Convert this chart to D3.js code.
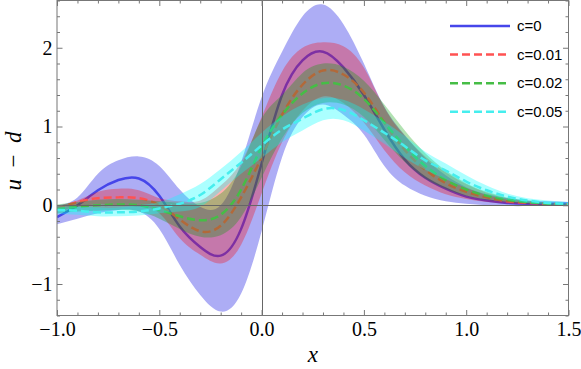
<!DOCTYPE html>
<html>
<head>
<meta charset="utf-8">
<script src="https://cdn.jsdelivr.net/npm/d3@7"></script>
<style>
  body { margin: 0; background: #fff; }
  svg { display: block; }
  .tick-label { font-family: "Liberation Serif", "Times New Roman", serif; font-size: 20px; fill: #000; }
  .legend text { font-family: "Liberation Sans", Arial, sans-serif; font-size: 15px; fill: #000; }
</style>
</head>
<body>
<div id="chart"></div>
<script>
// x grid shared by every series
const xs = [-1.0, -0.9, -0.8, -0.7, -0.6, -0.5, -0.4, -0.3, -0.2, -0.1, 0.0,
  0.1, 0.2, 0.3, 0.4, 0.5, 0.6, 0.7, 0.8, 0.9, 1.0, 1.1, 1.2, 1.3, 1.4, 1.5];

// c = 0
const c0Mid = [-0.15, 0.00, 0.19, 0.32, 0.34, 0.12, -0.27, -0.53, -0.64, -0.30, 0.53,
  1.40, 1.84, 1.95, 1.75, 1.40, 0.96, 0.58, 0.35, 0.21, 0.11, 0.06, 0.03, 0.02, 0.02, 0.02];
const c0Hi = [0.00, 0.10, 0.40, 0.57, 0.62, 0.50, 0.20, -0.02, 0.00, 0.55, 1.37,
  1.95, 2.40, 2.55, 2.30, 1.80, 1.25, 0.89, 0.60, 0.38, 0.23, 0.14, 0.09, 0.06, 0.05, 0.04];
const c0Lo = [-0.24, -0.17, -0.10, -0.06, -0.08, -0.30, -0.76, -1.14, -1.35, -1.12, -0.33,
  0.61, 1.12, 1.28, 1.15, 0.90, 0.50, 0.25, 0.12, 0.05, 0.02, 0.00, -0.01, -0.01, 0.00, 0.00];

// c = 0.01
const c1Mid = [-0.04, 0.04, 0.09, 0.10, 0.09, 0.00, -0.18, -0.33, -0.26, 0.10, 0.61,
  1.15, 1.53, 1.71, 1.66, 1.43, 1.05, 0.70, 0.45, 0.28, 0.17, 0.10, 0.05, 0.03, 0.02, 0.01];
const c1Hi = [-0.01, 0.06, 0.17, 0.21, 0.19, 0.09, 0.05, 0.06, 0.25, 0.55, 1.12,
  1.70, 2.00, 2.07, 2.02, 1.75, 1.24, 0.88, 0.62, 0.42, 0.27, 0.16, 0.09, 0.05, 0.03, 0.02];
const c1Lo = [-0.08, -0.02, 0.01, 0.00, -0.02, -0.10, -0.42, -0.63, -0.74, -0.50, 0.15,
  0.80, 1.20, 1.38, 1.30, 1.05, 0.70, 0.42, 0.25, 0.14, 0.08, 0.04, 0.02, 0.01, 0.00, 0.00];

// c = 0.02
const c2Mid = [-0.05, -0.02, 0.00, 0.01, 0.00, -0.06, -0.14, -0.19, -0.12, 0.20, 0.74,
  1.15, 1.42, 1.55, 1.52, 1.35, 1.05, 0.75, 0.50, 0.32, 0.20, 0.12, 0.07, 0.04, 0.02, 0.01];
const c2Hi = [0.01, 0.04, 0.07, 0.08, 0.07, 0.05, 0.03, 0.03, 0.15, 0.50, 1.10,
  1.40, 1.68, 1.80, 1.76, 1.58, 1.28, 0.95, 0.66, 0.44, 0.28, 0.17, 0.10, 0.06, 0.03, 0.02];
const c2Lo = [-0.10, -0.08, -0.07, -0.06, -0.08, -0.17, -0.30, -0.40, -0.38, -0.15, 0.35,
  0.85, 1.17, 1.30, 1.28, 1.12, 0.83, 0.55, 0.34, 0.21, 0.12, 0.07, 0.04, 0.02, 0.01, 0.00];

// c = 0.05
const c5Mid = [-0.06, -0.07, -0.09, -0.09, -0.08, -0.04, 0.02, 0.13, 0.33, 0.54, 0.76,
  0.96, 1.10, 1.22, 1.21, 1.08, 0.92, 0.75, 0.57, 0.44, 0.30, 0.19, 0.11, 0.06, 0.03, 0.02];
const c5Hi = [-0.01, -0.02, -0.03, -0.03, 0.00, 0.04, 0.14, 0.27, 0.46, 0.68, 0.92,
  1.13, 1.28, 1.36, 1.34, 1.22, 1.06, 0.88, 0.68, 0.53, 0.38, 0.25, 0.15, 0.09, 0.06, 0.04];
const c5Lo = [-0.11, -0.12, -0.14, -0.14, -0.13, -0.10, -0.08, -0.02, 0.18, 0.40, 0.60,
  0.80, 0.95, 1.08, 1.08, 0.95, 0.78, 0.60, 0.45, 0.33, 0.22, 0.13, 0.07, 0.03, 0.01, 0.00];

const labels = ["c=0", "c=0.01", "c=0.02", "c=0.05"];
const xTicks = [-1.0, -0.5, 0.0, 0.5, 1.0, 1.5];
const yTicks = [-1, 0, 1, 2];

const series = [
  { label: labels[0], mid: c0Mid, hi: c0Hi, lo: c0Lo, line: "#4646ea", band: "rgb(40,40,230)", bandOpacity: 0.38, dash: null },
  { label: labels[1], mid: c1Mid, hi: c1Hi, lo: c1Lo, line: "#ff5252", band: "rgb(255,0,0)", bandOpacity: 0.3, dash: "8,4" },
  { label: labels[2], mid: c2Mid, hi: c2Hi, lo: c2Lo, line: "#46bd46", band: "rgb(0,160,0)", bandOpacity: 0.3, dash: "8,4" },
  { label: labels[3], mid: c5Mid, hi: c5Hi, lo: c5Lo, line: "#46eeee", band: "rgb(0,255,255)", bandOpacity: 0.33, dash: "8,4" }
];

const width = 581, height = 369;
const plotLeft = 57, plotRight = 568.5, plotTop = 0.5, plotBottom = 315.5;

const svg = d3.select("#chart").append("svg")
  .attr("width", width)
  .attr("height", height);

const x = d3.scaleLinear().domain([-1, 1.5]).range([plotLeft, plotRight]);
const y = d3.scaleLinear().domain([-1.4, 2.6]).range([plotBottom, plotTop]);

svg.append("clipPath").attr("id", "plot-clip")
  .append("rect")
  .attr("x", plotLeft).attr("y", plotTop)
  .attr("width", plotRight - plotLeft).attr("height", plotBottom - plotTop);

const plot = svg.append("g").attr("clip-path", "url(#plot-clip)");

const curve = d3.curveNatural;

// bands and lines, one series after the other
for (const s of series) {
  const area = d3.area()
    .x((d, i) => x(xs[i]))
    .y0((d, i) => y(s.lo[i]))
    .y1((d, i) => y(s.hi[i]))
    .curve(curve);

  plot.append("path")
    .datum(xs)
    .attr("d", area)
    .attr("fill", s.band)
    .attr("fill-opacity", s.bandOpacity);

  const line = d3.line()
    .x((d, i) => x(xs[i]))
    .y(d => y(d))
    .curve(curve);

  plot.append("path")
    .datum(s.mid)
    .attr("d", line)
    .attr("fill", "none")
    .attr("stroke", s.line)
    .attr("stroke-width", 2.5)
    .attr("stroke-dasharray", s.dash);
}

// origin lines
plot.append("line")
  .attr("x1", plotLeft).attr("x2", plotRight)
  .attr("y1", Math.round(y(0)) + 0.5).attr("y2", Math.round(y(0)) + 0.5)
  .attr("stroke", "#666").attr("stroke-width", 1);
plot.append("line")
  .attr("x1", Math.round(x(0)) + 0.5).attr("x2", Math.round(x(0)) + 0.5)
  .attr("y1", plotTop).attr("y2", plotBottom)
  .attr("stroke", "#666").attr("stroke-width", 1);

// frame ticks (inside), major and minor, all four sides
const xMinor = d3.range(-10, 16).map(d => d / 10).filter(d => !xTicks.some(t => Math.abs(t - d) < 1e-9));
const yMinor = d3.range(-7, 14).map(d => d / 5).filter(d => !yTicks.some(t => Math.abs(t - d) < 1e-9));

function styleAxis(g) {
  g.select(".domain").remove();
  g.selectAll(".tick line").attr("stroke", "#777");
  g.selectAll(".tick text").attr("class", "tick-label");
}

svg.append("g").attr("transform", `translate(0,${plotBottom})`)
  .call(d3.axisBottom(x).tickValues(xMinor).tickSize(-3).tickFormat(""))
  .call(styleAxis);
svg.append("g").attr("transform", `translate(0,${plotBottom})`)
  .call(d3.axisBottom(x).tickValues(xTicks).tickSize(-5.5).tickPadding(6)
    .tickFormat(d => d3.format(".1f")(d).replace("-", "\u2212")))
  .call(styleAxis);

svg.append("g").attr("transform", `translate(0,${plotTop})`)
  .call(d3.axisTop(x).tickValues(xMinor).tickSize(-3).tickFormat(""))
  .call(styleAxis);
svg.append("g").attr("transform", `translate(0,${plotTop})`)
  .call(d3.axisTop(x).tickValues(xTicks).tickSize(-5.5).tickFormat(""))
  .call(styleAxis);

svg.append("g").attr("transform", `translate(${plotLeft},0)`)
  .call(d3.axisLeft(y).tickValues(yMinor).tickSize(-3).tickFormat(""))
  .call(styleAxis);
svg.append("g").attr("transform", `translate(${plotLeft},0)`)
  .call(d3.axisLeft(y).tickValues(yTicks).tickSize(-5.5).tickPadding(4.5)
    .tickFormat(d => String(d).replace("-", "\u2212")))
  .call(styleAxis);

svg.append("g").attr("transform", `translate(${plotRight},0)`)
  .call(d3.axisRight(y).tickValues(yMinor).tickSize(-3).tickFormat(""))
  .call(styleAxis);
svg.append("g").attr("transform", `translate(${plotRight},0)`)
  .call(d3.axisRight(y).tickValues(yTicks).tickSize(-5.5).tickFormat(""))
  .call(styleAxis);

// frame
svg.append("rect")
  .attr("x", plotLeft).attr("y", plotTop)
  .attr("width", plotRight - plotLeft).attr("height", plotBottom - plotTop)
  .attr("fill", "none")
  .attr("stroke", "#777").attr("stroke-width", 1);

// axis titles
svg.append("text")
  .attr("x", (plotLeft + plotRight) / 2).attr("y", 362)
  .attr("text-anchor", "middle")
  .style("font-family", "'Liberation Serif', 'Times New Roman', serif")
  .style("font-style", "italic")
  .style("font-size", "23px")
  .text("x");

svg.append("text")
  .attr("transform", `translate(21,161) rotate(-90)`)
  .attr("text-anchor", "middle")
  .style("font-family", "'Liberation Serif', 'Times New Roman', serif")
  .style("font-size", "23px")
  .call(t => {
    t.append("tspan").style("font-style", "italic").text("u");
    t.append("tspan").text("\u2002\u2212\u2002");
    t.append("tspan").style("font-style", "italic").text("d");
  });

// legend
const legend = svg.append("g").attr("class", "legend");
series.forEach((s, i) => {
  const ly = 26 + i * 28.6;
  legend.append("line")
    .attr("x1", 450).attr("x2", 510)
    .attr("y1", ly).attr("y2", ly)
    .attr("stroke", s.line)
    .attr("stroke-width", 2.5)
    .attr("stroke-dasharray", s.dash);
  legend.append("text")
    .attr("x", 517).attr("y", ly)
    .attr("dy", "0.35em")
    .text(s.label);
});
</script>
</body>
</html>
